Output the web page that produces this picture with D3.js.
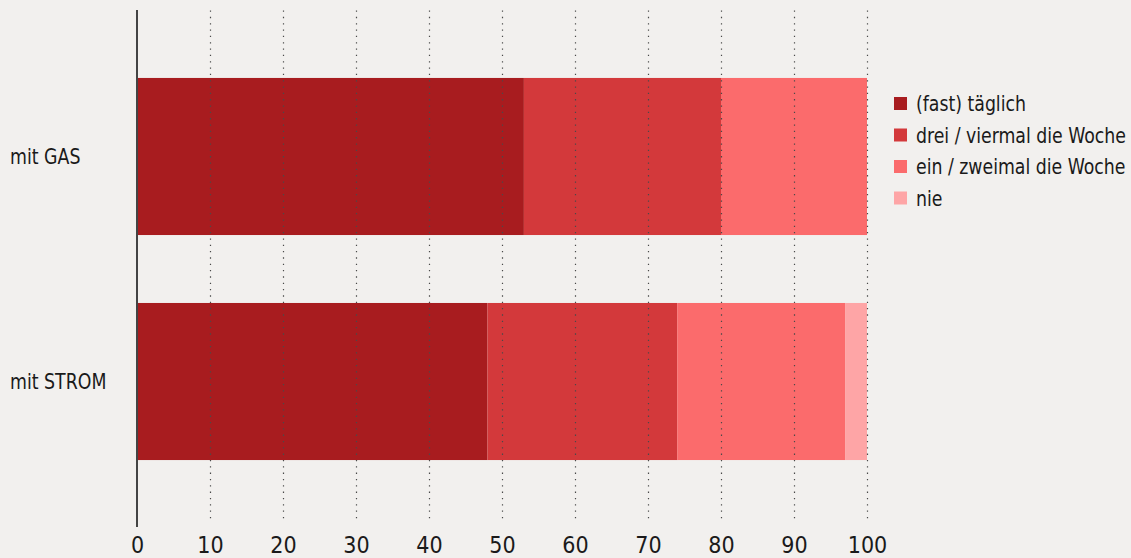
<!DOCTYPE html>
<html>
<head>
<meta charset="utf-8">
<script src="https://cdn.jsdelivr.net/npm/d3@7"></script>
<style>
  html, body { margin: 0; padding: 0; background: #f2f0ee; }
  svg { display: block; }
  text { font-family: "DejaVu Sans Condensed", "DejaVu Sans", sans-serif; font-stretch: condensed; fill: #1a1a1a; }
</style>
</head>
<body>
<svg id="chart" width="1131" height="558"></svg>
<script>
// Categories (rows) and frequency series, values in percent
const categories = ["mit GAS", "mit STROM"];
const seriesNames = ["(fast) täglich", "drei / viermal die Woche", "ein / zweimal die Woche", "nie"];
const taeglich = [53, 48];
const dreiVier = [27, 26];
const einZwei = [20, 23];
const nie = [0, 3];
const tickValues = [0, 10, 20, 30, 40, 50, 60, 70, 80, 90, 100];
const colors = ["#a81c1f", "#d3393b", "#fb6b6c", "#fea5a6"];

const svg = d3.select("#chart");

const x = d3.scaleLinear().domain([0, 100]).range([137, 867]);
const y = d3.scaleBand().domain(categories).range([10, 528]).padding(0.302);
const color = d3.scaleOrdinal().domain(seriesNames).range(colors);

const rows = categories.map((c, i) => ({
  cat: c,
  [seriesNames[0]]: taeglich[i],
  [seriesNames[1]]: dreiVier[i],
  [seriesNames[2]]: einZwei[i],
  [seriesNames[3]]: nie[i]
}));
const stacked = d3.stack().keys(seriesNames)(rows);

// stacked bars
svg.append("g")
  .selectAll("g")
  .data(stacked)
  .join("g")
  .attr("fill", d => color(d.key))
  .selectAll("rect")
  .data(d => d)
  .join("rect")
  .attr("x", d => x(d[0]))
  .attr("y", d => y(d.data.cat))
  .attr("width", d => x(d[1]) - x(d[0]))
  .attr("height", y.bandwidth());

// dotted vertical gridlines, drawn over the bars
svg.append("g")
  .selectAll("line")
  .data(tickValues.filter(v => v > 0))
  .join("line")
  .attr("x1", d => Math.round(x(d)) + 0.5)
  .attr("x2", d => Math.round(x(d)) + 0.5)
  .attr("y1", 10.5)
  .attr("y2", 523)
  .attr("stroke", "#4a4a4a")
  .attr("stroke-width", 1.2)
  .attr("stroke-dasharray", "1.3 5.03");

// baseline axis
svg.append("line")
  .attr("x1", x(0)).attr("x2", x(0))
  .attr("y1", 10).attr("y2", 527)
  .attr("stroke", "#444")
  .attr("stroke-width", 2);

// x tick labels
const xAxis = d3.axisBottom(x).tickValues(tickValues).tickSize(0).tickPadding(0);
const gx = svg.append("g").attr("transform", "translate(0,537)").call(xAxis);
gx.attr("font-family", null).attr("font-size", null);
gx.select(".domain").remove();
gx.selectAll("text")
  .attr("dy", null)
  .attr("y", 16)
  .style("font-size", "23px")
  .attr("fill", "#1a1a1a");

// category labels, slightly narrowed horizontally
const cat = svg.append("g")
  .selectAll("g")
  .data(categories)
  .join("g")
  .attr("transform", d => `translate(10,${y(d) + y.bandwidth() / 2}) scale(0.92,1)`);
cat.append("text")
  .attr("dy", "0.35em")
  .style("font-size", "21px")
  .text(d => d);

// legend
const legend = svg.append("g").attr("transform", "translate(894,97)");
const item = legend.selectAll("g")
  .data(seriesNames)
  .join("g")
  .attr("transform", (d, i) => `translate(0,${i * 31.5})`);
item.append("rect")
  .attr("width", 13).attr("height", 13)
  .attr("fill", d => color(d));
item.append("g")
  .attr("transform", "translate(22,6.5) scale(0.875,1)")
  .append("text")
  .attr("dy", "0.35em")
  .style("font-size", "22px")
  .text(d => d);
</script>
</body>
</html>
